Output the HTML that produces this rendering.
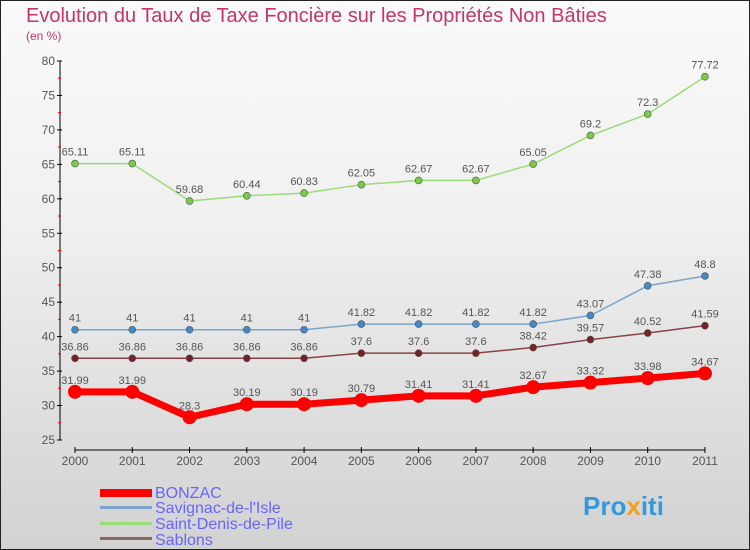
<!DOCTYPE html>
<html><head><meta charset="utf-8"><style>
body{margin:0}
#c{width:750px;height:550px;position:relative;overflow:hidden;background:linear-gradient(#fafafa,#f0f0f0 40%,#d2d2d2);font-family:"Liberation Sans",sans-serif}
text{font-family:"Liberation Sans",sans-serif}
</style></head><body>
<div id="c">
<svg id="s" width="750" height="550">
<rect x="0.5" y="0.5" width="749" height="549" fill="none" stroke="#222"/>
<text x="26" y="22" font-size="20" fill="#c8336a">Evolution du Taux de Taxe Foncière sur les Propriétés Non Bâties</text>
<text x="26" y="40" font-size="12" fill="#c8336a">(en %)</text>
<g id="axes"></g><g id="series"></g>
<g>
<rect x="100" y="489" width="52" height="8" fill="#f00"/>
<text x="155" y="498" font-size="16" fill="#6666ff">BONZAC</text>
<rect x="100" y="506" width="52" height="3" fill="#7aa6cc"/>
<text x="155" y="513" font-size="16" fill="#6666ff">Savignac-de-l'Isle</text>
<rect x="100" y="522" width="52" height="3" fill="#99dd77"/>
<text x="155" y="529" font-size="16" fill="#6666ff">Saint-Denis-de-Pile</text>
<rect x="100" y="537" width="52" height="3" fill="#886666"/>
<text x="155" y="545" font-size="16" fill="#6666ff">Sablons</text>
</g>
<text x="583" y="515" font-size="26" font-weight="bold" fill="#3399dd">Pro<tspan fill="#f0a020">x</tspan>iti</text>
</svg></div>
<script>
const years=["2000","2001","2002","2003","2004","2005","2006","2007","2008","2009","2010","2011"];
const yTicks=[25,30,35,40,45,50,55,60,65,70,75,80];
const bonzac=[31.99,31.99,28.3,30.19,30.19,30.79,31.41,31.41,32.67,33.32,33.98,34.67];
const savignac=[41,41,41,41,41,41.82,41.82,41.82,41.82,43.07,47.38,48.8];
const saintDenis=[65.11,65.11,59.68,60.44,60.83,62.05,62.67,62.67,65.05,69.2,72.3,77.72];
const sablons=[36.86,36.86,36.86,36.86,36.86,37.6,37.6,37.6,38.42,39.57,40.52,41.59];
const NS="http://www.w3.org/2000/svg";
const xS=i=>75+i*57.27, yS=v=>440-(v-25)*(379/55);
function mk(t,a,p){const e=document.createElementNS(NS,t);for(const k in a)e.setAttribute(k,a[k]);p.appendChild(e);return e;}
const ax=document.getElementById('axes');
let l=mk('line',{x1:60,y1:yS(80),x2:60,y2:440,stroke:'#000'},ax);


l=mk('line',{x1:75,y1:450,x2:705,y2:450,stroke:'#000'},ax);


yTicks.forEach(v=>{
 const y=yS(v);
 mk('line',{x1:57,y1:y,x2:62,y2:y,stroke:'#000'},ax);
 mk('line',{x1:58,y1:y+17.2,x2:61,y2:y+17.2,stroke:v>25?'#e00':'none'},ax);
 const t=mk('text',{x:55,y:y+4,'font-size':12,fill:'#555','text-anchor':'end'},ax);t.textContent=v;
 
 
});
years.forEach((yr,i)=>{
 const x=xS(i);
 mk('line',{x1:x,y1:447,x2:x,y2:453,stroke:'#000'},ax);
 const t=mk('text',{x:x,y:465,'font-size':12,fill:'#555','text-anchor':'middle'},ax);t.textContent=yr;
 
 
});
const sg=document.getElementById('series');
function draw(vals,color,w,r,name,dot){
 const g=mk('g',{},sg);
 
 
 const p=mk('polyline',{points:vals.map((v,i)=>xS(i)+','+yS(v)).join(' '),fill:'none',stroke:color,'stroke-width':w,'stroke-linejoin':'round'},g);
 
 
 vals.forEach((v,i)=>{
  const c=mk('circle',{cx:xS(i),cy:yS(v),r:r,fill:dot,stroke:w>3?'none':'#555','stroke-width':0.6},g);
  
  
  const t=mk('text',{x:xS(i),y:yS(v)-8,'font-size':11,fill:'#555','text-anchor':'middle'},g);
  t.textContent=v;
  
  
 });
}
draw(saintDenis,'#99dd77',1.5,3.5,'saint-denis','#77cc44');
draw(savignac,'#7aa6cc',1.5,3.5,'savignac','#4488cc');
draw(sablons,'#884444',1.5,3.5,'sablons','#772222');
draw(bonzac,'#f00',7,7,'bonzac','#f00');
</script>
</body></html>
